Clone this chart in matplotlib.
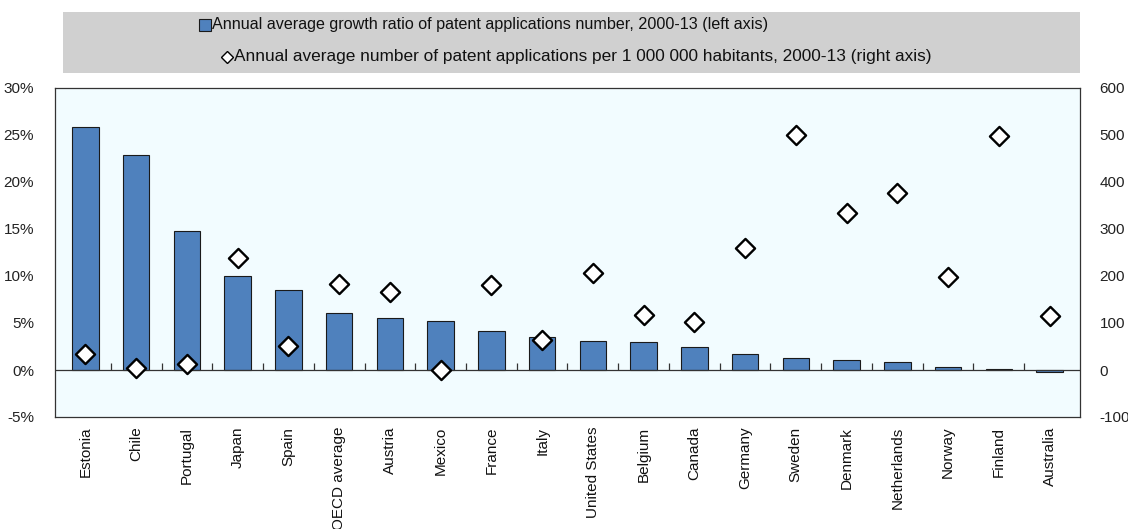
import matplotlib
matplotlib.use("Agg")
import matplotlib.pyplot as plt
from matplotlib.lines import Line2D
from matplotlib.patches import Rectangle
from matplotlib import font_manager

families = {f.name for f in font_manager.fontManager.ttflist}
narrow = "Liberation Sans Narrow" if "Liberation Sans Narrow" in families else "Liberation Sans"
plt.rcParams["font.family"] = [narrow, "DejaVu Sans"]

countries = ["Estonia", "Chile", "Portugal", "Japan", "Spain", "OECD average", "Austria",
             "Mexico", "France", "Italy", "United States", "Belgium", "Canada", "Germany",
             "Sweden", "Denmark", "Netherlands", "Norway", "Finland", "Australia"]
growth_pct = [25.8, 22.9, 14.8, 10.0, 8.5, 6.1, 5.5, 5.2, 4.2, 3.5, 3.1, 3.0, 2.4, 1.7,
              1.3, 1.1, 0.9, 0.3, 0.1, -0.2]
per_million = [34, 5, 13, 238, 51, 183, 166, 1, 181, 64, 206, 117, 102, 260,
               500, 334, 377, 198, 498, 114]

left_ticks = [-5, 0, 5, 10, 15, 20, 25, 30]
right_ticks = [-100, 0, 100, 200, 300, 400, 500, 600]

bar_color = "#4F81BD"
W, H = 1128, 529
fig = plt.figure(figsize=(W / 100, H / 100), dpi=100)
fig.patch.set_facecolor("white")

ax = fig.add_axes([55 / W, 1 - 417 / H, (1080 - 55) / W, (417 - 88) / H])
ax.set_facecolor("#F2FCFF")
x = list(range(len(countries)))
ax.bar(x, growth_pct, width=0.52, color=bar_color, edgecolor="#1a1a1a", linewidth=0.8, zorder=2)
ax.axhline(0, color="#333333", linewidth=0.9, zorder=3)
ax.plot([i + 0.5 for i in x[:-1]], [0] * (len(x) - 1), linestyle="none", marker=2,
        markersize=5, color="#333333", markeredgewidth=0.9, zorder=3)
ax.set_xlim(-0.6, len(countries) - 0.4)
ax.set_ylim(-5, 30)
ax.set_yticks(left_ticks)
ax.set_yticklabels([f"{t}%" for t in left_ticks], fontsize=11, color="#222222")
ax.tick_params(axis="y", length=0, pad=15)
ax.set_xticks(x)
ax.set_xticklabels(countries, rotation=90, fontsize=11, color="#111111", va="top")
ax.tick_params(axis="x", length=0, pad=7)
for s in ax.spines.values():
    s.set_color("#333333")
    s.set_linewidth(0.9)

ax2 = ax.twinx()
ax2.set_ylim(-100, 600)
ax2.set_yticks(right_ticks)
ax2.set_yticklabels([str(t) for t in right_ticks], fontsize=11, color="#222222")
ax2.tick_params(axis="y", length=0, pad=14)
ax2.scatter(x, per_million, marker="D", s=95, facecolor="white", edgecolor="black",
            linewidths=1.7, zorder=5)
for s in ax2.spines.values():
    s.set_visible(False)

# legend band
fig.patches.append(Rectangle((63 / W, 1 - 73 / H), (1080 - 63) / W, 61 / H,
                             transform=fig.transFigure, facecolor="#D0D0D0",
                             edgecolor="none", zorder=0))
legend_rows = [
    ("Annual average growth ratio of patent applications number, 2000-13 (left axis)",
     dict(marker="s", markersize=8, markerfacecolor=bar_color, markeredgecolor="#1a1a1a",
          markeredgewidth=0.8), 205, 25, 11.6),
    ("Annual average number of patent applications per 1 000 000 habitants, 2000-13 (right axis)",
     dict(marker="D", markersize=6, markerfacecolor="white", markeredgecolor="black",
          markeredgewidth=1.0), 227, 57, 12.4),
]
for text, mstyle, px, py, fs in legend_rows:
    fig.add_artist(Line2D([px / W], [1 - py / H], transform=fig.transFigure,
                          linestyle="none", **mstyle))
    fig.text((px + 7) / W, 1 - py / H, text, fontsize=fs, color="#111111",
             va="center", ha="left")

fig.savefig("out.png", dpi=100, facecolor="white")
